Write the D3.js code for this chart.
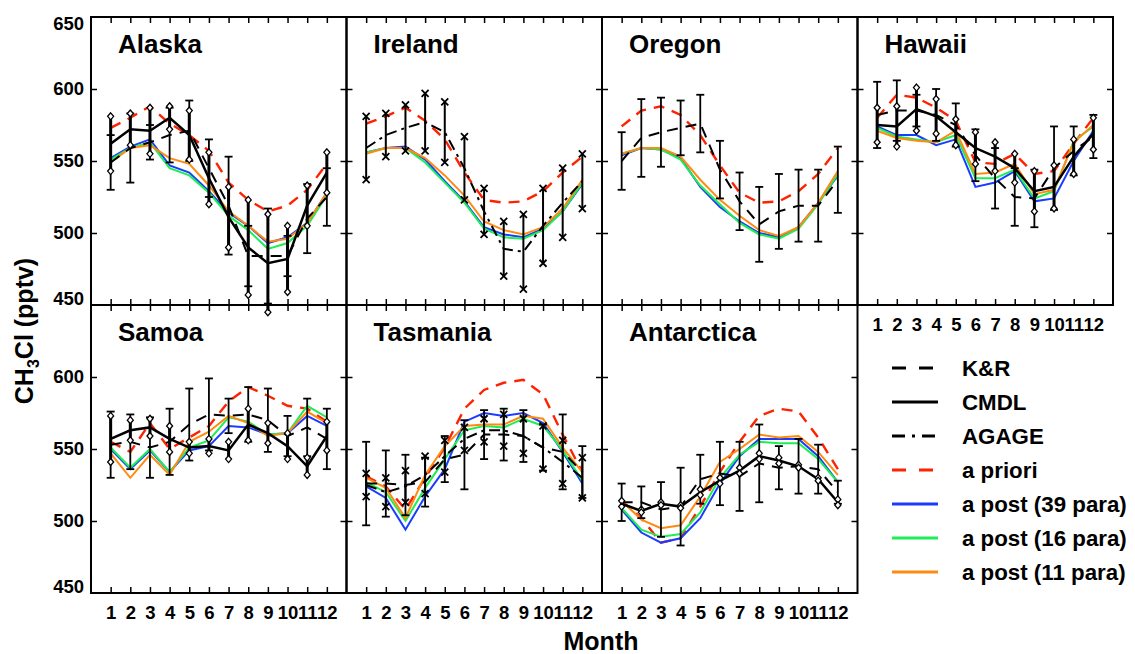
<!DOCTYPE html>
<html><head><meta charset="utf-8">
<script src="https://cdn.jsdelivr.net/npm/d3@7"></script>
<style>
body{margin:0;background:#fff}
svg{display:block}
text{font-family:"Liberation Sans",Arial,Helvetica,sans-serif;font-weight:bold;fill:#000}
</style>
</head><body>
<svg id="c" width="1135" height="654"></svg>
<script>
// ---------------- data ----------------
const sites = ["Alaska","Ireland","Oregon","Hawaii","Samoa","Tasmania","Antarctica"];
const months = [1,2,3,4,5,6,7,8,9,10,11,12];
const yTicksTop = [450,500,550,600,650];
const yTicksBottom = [450,500,550,600];
const yInnerTicks = [500,550,600];
const obsType = ["CMDL","AGAGE",null,"CMDL","CMDL","AGAGE","CMDL"];
const hasKR = [true,false,true,true,true,true,true];

const aPriori = [
  [573,580,588,576,568,557,535,523,515,519,530,548],
  [576,581,587,578,565,542,523,521,522,529,542,553],
  [574,585,588,582,568,547,528,521,522,529,541,559],
  [580,596,594,587,578,549,548,555,541,543,562,580],
  [555,548,568,550,558,566,583,593,587,580,578,569],
  [531,524,508,530,551,578,591,596,598,588,560,534],
  [514,502,485,488,510,534,555,573,578,576,558,536]
];
const post39 = [
  [552,560,565,547,542,529,514,505,493,497,507,528],
  [556,559,560,551,536,522,504,499,497,503,515,534],
  [554,559,558,552,532,518,508,500,497,504,521,540],
  [574,568,568,561,565,532,535,543,522,524,550,571],
  [550,536,549,534,549,552,566,565,560,561,573,566],
  [524,516,494,517,536,569,575,573,575,568,548,526],
  [508,492,485,488,502,526,545,557,557,557,545,527]
];
const post16 = [
  [551,559,563,545,540,528,512,502,489,493,505,526],
  [556,559,559,549,535,521,503,497,496,502,515,535],
  [555,559,558,551,533,520,507,499,496,503,520,541],
  [573,567,565,563,568,538,538,544,524,529,564,574],
  [551,537,550,534,551,556,572,569,560,561,580,572],
  [527,520,500,523,543,563,566,565,571,566,549,528],
  [509,494,489,491,506,530,546,555,554,554,543,527]
];
const post11 = [
  [549,559,561,552,548,533,515,505,494,496,507,528],
  [555,559,559,552,540,526,508,502,499,504,517,537],
  [555,559,559,553,537,523,512,502,498,504,521,543],
  [571,566,564,563,571,541,542,548,527,530,563,575],
  [547,530,546,532,555,562,573,568,559,561,576,568],
  [530,523,502,532,552,566,567,567,573,571,551,534],
  [514,501,495,497,517,541,550,560,558,559,548,532]
];
// K&R climatology: mean and error half-width
const krMean = [
  [549,559,563,568,571,545,519,484,484,484,510,525],
  null,
  [550,566,570,573,576,544,522,506,515,519,519,537],
  [582,585,585,582,575,554,538,525,524,545,557,567],
  [553,555,551,555,567,574,573,574,570,559,565,557],
  [526,526,525,527,543,546,560,560,559,551,548,534],
  [513,513,508,510,529,533,531,540,537,538,536,520]
];
const krErr = [
  [19,24,12,19,21,20,34,21,33,14,24,20],
  null,
  [20,27,24,19,20,20,20,26,26,25,25,23],
  [23,21,11,18,15,18,21,20,20,29,17,15],
  [23,19,21,23,25,25,12,19,22,14,20,21],
  [29,23,21,17,16,24,17,18,18,16,26,18],
  [13,11,19,27,17,22,24,27,15,19,17,8]
];
// station observations (CMDL or AGAGE): mean and spread half-width
const obsMean = [
  [562,572,571,580,568,538,511,490,479,482,519,542],
  [559,568,573,577,570,545,515,489,487,505,521,536],
  null,
  [575,574,586,581,570,559,553,545,529,532,553,569],
  [557,563,565,557,551,552,549,567,561,552,538,559],
  [525,520,524,532,545,557,563,563,559,551,541,530],
  [512,507,512,510,520,528,535,545,542,538,529,513]
];
const obsErr = [
  [19,11,16,8,17,18,21,33,34,23,14,14],
  [22,15,16,20,21,22,16,19,26,26,24,19],
  null,
  [12,14,15,12,9,11,10,10,14,15,12,11],
  [16,7,6,9,4,5,6,11,7,9,6,10],
  [8,10,11,13,11,8,8,11,12,15,15,14],
  [2,1,1,1,2,2,2,2,2,1,1,2]
];
const legendLabels = ["K&R","CMDL","AGAGE","a priori","a post (39 para)","a post (16 para)","a post (11 para)"];

// ---------------- layout / style ----------------
const svg = d3.select("#c");
const W = 255.5, H = 288, X0 = 91, Y0 = 17;
const RED = "#ff2200", BLUE = "#1a3cff", GREEN = "#1eee55", ORANGE = "#ff8a12";
const DASH = "11,8", DASHDOT = "11,5,3,5";

const x = d3.scaleLinear().domain([0,13]).range([0,W]);
const y = d3.scaleLinear().domain([450,650]).range([H,0]);

const line = d3.line().x((d,i)=>x(months[i])).y(d=>y(d));

sites.forEach((name, si) => {
  const col = si < 4 ? si : si - 4;
  const row = si < 4 ? 0 : 1;
  const g = svg.append("g").attr("transform", `translate(${X0 + col*W},${Y0 + row*H})`);

  // model lines
  const models = [
    {d: aPriori[si], c: RED, dash: DASH, w: 2.4},
    {d: post39[si], c: BLUE, dash: null, w: 2},
    {d: post16[si], c: GREEN, dash: null, w: 2},
    {d: post11[si], c: ORANGE, dash: null, w: 2}
  ];
  models.forEach(m => {
    g.append("path").attr("d", line(m.d)).attr("fill","none")
      .attr("stroke", m.c).attr("stroke-width", m.w)
      .attr("stroke-dasharray", m.dash);
  });

  // K&R
  if (hasKR[si]) {
    const mu = krMean[si], er = krErr[si];
    g.append("path").attr("d", line(mu)).attr("fill","none")
      .attr("stroke","#000").attr("stroke-width",2).attr("stroke-dasharray", DASH);
    const eb = g.append("g").attr("stroke","#000").attr("stroke-width",1.8);
    months.forEach((m,i) => {
      const xx = x(m), y1 = y(mu[i]+er[i]), y2 = y(mu[i]-er[i]);
      eb.append("line").attr("x1",xx).attr("x2",xx).attr("y1",y1).attr("y2",y2);
      eb.append("line").attr("x1",xx-4).attr("x2",xx+4).attr("y1",y1).attr("y2",y1);
      eb.append("line").attr("x1",xx-4).attr("x2",xx+4).attr("y1",y2).attr("y2",y2);
    });
  }

  // station observations
  if (obsType[si]) {
    const mu = obsMean[si], er = obsErr[si];
    const isC = obsType[si] === "CMDL";
    g.append("path").attr("d", line(mu)).attr("fill","none")
      .attr("stroke","#000").attr("stroke-width", isC ? 2.5 : 2)
      .attr("stroke-dasharray", isC ? null : DASHDOT);
    const ob = g.append("g");
    months.forEach((m,i) => {
      const xx = x(m), y1 = y(mu[i]+er[i]), y2 = y(mu[i]-er[i]);
      ob.append("line").attr("x1",xx).attr("x2",xx).attr("y1",y1).attr("y2",y2)
        .attr("stroke","#000").attr("stroke-width", isC ? 3 : 2);
      [y1,y2].forEach(yy => {
        if (isC) {
          ob.append("path").attr("d", `M${xx},${yy-3.5}L${xx+3},${yy}L${xx},${yy+3.5}L${xx-3},${yy}Z`)
            .attr("fill","#fff").attr("stroke","#000").attr("stroke-width",1.3);
        } else {
          ob.append("path").attr("d", `M${xx-3.5},${yy-3.5}L${xx+3.5},${yy+3.5}M${xx-3.5},${yy+3.5}L${xx+3.5},${yy-3.5}`)
            .attr("stroke","#000").attr("stroke-width",1.8);
        }
      });
    });
  }

  // frame
  g.append("rect").attr("width",W).attr("height",H).attr("fill","none")
    .attr("stroke","#000").attr("stroke-width",2);

  // ticks
  const labelled = (row === 1) || si === 3;
  const axB = g.append("g").attr("transform",`translate(0,${H})`)
    .call(d3.axisBottom(x).tickValues(months).tickSize(-6).tickPadding(13)
      .tickFormat(labelled ? d3.format("d") : ""));
  const axT = g.append("g").call(d3.axisTop(x).tickValues(months).tickSize(-6).tickFormat(""));
  const axL = g.append("g").call(d3.axisLeft(y).tickValues(yInnerTicks).tickSize(-6).tickFormat(""));
  const axR = g.append("g").attr("transform",`translate(${W},0)`)
    .call(d3.axisRight(y).tickValues(yInnerTicks).tickSize(-6).tickFormat(""));
  [axB,axT,axL,axR].forEach(a => {
    a.select(".domain").remove();
    a.selectAll(".tick line").attr("stroke","#000").attr("stroke-width",1.5);
    a.selectAll("text").attr("font-size",18.5).attr("font-family",null).attr("fill","#000");
  });

  // y tick labels for left column
  if (col === 0) {
    const vals = row === 0 ? yTicksTop : yTicksBottom;
    g.selectAll("text.yl").data(vals).join("text").attr("class","yl")
      .attr("x",-7).attr("y", d => y(d)).attr("text-anchor","end").attr("font-size",18.5)
      .attr("dy", d => d === 650 ? "0.71em" : (d === 450 ? "0" : "0.35em"))
      .text(d => d);
  }

  // title
  g.append("text").attr("x",27).attr("y",36).attr("font-size",26).text(name);
});

// axis titles
svg.append("text").attr("x",601).attr("y",650).attr("text-anchor","middle")
  .attr("font-size",25).text("Month");
const yl = svg.append("text").attr("transform","translate(33,331) rotate(-90)")
  .attr("text-anchor","middle").attr("font-size",25);
yl.append("tspan").text("CH");
yl.append("tspan").attr("font-size",16).attr("dy",6).text("3");
yl.append("tspan").attr("dy",-6).text("Cl (pptv)");

// legend
const legStyles = [
  {c:"#000", dash:"14,13"},
  {c:"#000", dash:null},
  {c:"#000", dash:"13,7,3,7"},
  {c:RED, dash:"14,13"},
  {c:BLUE, dash:null},
  {c:GREEN, dash:null},
  {c:ORANGE, dash:null}
];
const lg = svg.append("g");
legendLabels.forEach((lab,i) => {
  const yy = 368 + i*34;
  lg.append("line").attr("x1",892).attr("x2",938).attr("y1",yy).attr("y2",yy)
    .attr("stroke",legStyles[i].c).attr("stroke-width",3)
    .attr("stroke-dasharray",legStyles[i].dash);
  lg.append("text").attr("x",962).attr("y",yy+7.5).attr("font-size",22.3).text(lab);
});
</script>
</body></html>
